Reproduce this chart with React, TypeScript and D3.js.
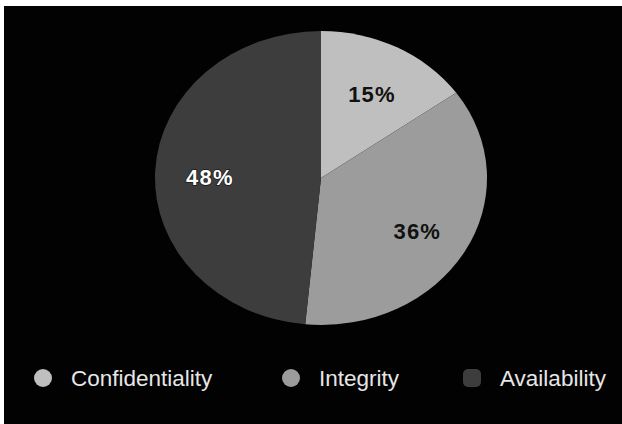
import React from "react";
import * as d3 from "d3";

const categories = ["Confidentiality", "Integrity", "Availability"];
const values = [15, 36, 48];
const colors = ["#bfbfbf", "#9c9c9c", "#3d3d3d"];
const labelColors = ["#111111", "#111111", "#ffffff"];

const W = 622;
const H = 424;

export default function App() {
  const cx = 321;
  const cy = 178;
  const rx = 166;
  const ry = 147;
  const sy = ry / rx;

  const pie = d3.pie<number>().sort(null).value((d) => d);
  const arcs = pie(values);
  const arc = d3.arc<d3.PieArcDatum<number>>().innerRadius(0).outerRadius(rx);
  const labelArc = d3
    .arc<d3.PieArcDatum<number>>()
    .innerRadius(rx * 0.67)
    .outerRadius(rx * 0.67);

  const legendX = [43, 291, 472];
  const legendY = 378;

  return (
    <div style={{ position: "absolute", left: 0, top: 0, width: W, height: H }}>
      <svg width={W} height={H} style={{ display: "block" }}>
        <rect x={0} y={0} width={W} height={H} fill="#ffffff" />
        <rect x={4} y={6} width={W - 4} height={H - 6} fill="#020202" />
        <g transform={`translate(${cx},${cy}) scale(1,${sy})`}>
          {arcs.map((a, i) => (
            <path key={i} d={arc(a) || ""} fill={colors[i]} />
          ))}
        </g>
        {arcs.map((a, i) => {
          const [lx, ly] = labelArc.centroid(a);
          return (
            <text
              key={i}
              x={cx + lx}
              y={cy + ly * sy + 4}
              textAnchor="middle"
              dy="0.35em"
              fontFamily="Liberation Sans, Arial, Helvetica, sans-serif"
              fontWeight="bold"
              fontSize={22}
              letterSpacing={1.2}
              fill={labelColors[i]}
              stroke={i === 2 ? "#1a1a1a" : "none"}
              strokeWidth={i === 2 ? 1.5 : 0}
              paintOrder="stroke"
            >
              {`${values[i]}%`}
            </text>
          );
        })}
        {categories.map((c, i) => (
          <g key={c}>
            {i === 2 ? (
              <rect
                x={legendX[i] - 9}
                y={legendY - 9}
                width={18}
                height={18}
                rx={5}
                fill={colors[i]}
              />
            ) : (
              <circle cx={legendX[i]} cy={legendY} r={9} fill={colors[i]} />
            )}
            <text
              x={legendX[i] + 28}
              y={legendY}
              dy="0.35em"
              fontFamily="Liberation Sans, Arial, Helvetica, sans-serif"
              fontSize={22.5}
              fill="#e6e6e6"
            >
              {c}
            </text>
          </g>
        ))}
      </svg>
    </div>
  );
}
